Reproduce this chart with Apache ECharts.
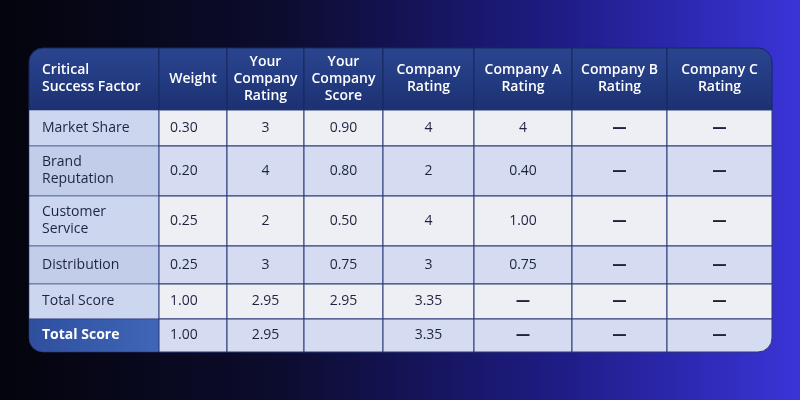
<!DOCTYPE html>
<html><head><meta charset="utf-8">
<script src="https://cdn.jsdelivr.net/npm/echarts@6/dist/echarts.min.js"></script>
<style>html,body{margin:0;padding:0;}#c{width:800px;height:400px;background:linear-gradient(90deg,#04040c 0%,#0c0c2e 35%,#1f1c86 70%,#3a34d8 100%);}</style>
</head><body><div id="c"></div>
<script>
const headers = ['Critical\nSuccess Factor','Weight','Your\nCompany\nRating','Your\nCompany\nScore','Company\nRating','Company A\nRating','Company B\nRating','Company C\nRating'];
const factors = ['Market Share','Brand\nReputation','Customer\nService','Distribution','Total Score','Total Score'];
const weight = ['0.30','0.20','0.25','0.25','1.00','1.00'];
const yourRating = ['3','4','2','3','2.95','2.95'];
const yourScore = ['0.90','0.80','0.50','0.75','2.95',''];
const companyRating = ['4','2','4','3','3.35','3.35'];
const companyA = ['4','0.40','1.00','0.75','—','—'];
const companyB = ['—','—','—','—','—','—'];
const companyC = ['—','—','—','—','—','—'];

// layout (pixel units relative to table)
const colEdges = [0,130,198,275,354,445,543,638,743];
const rowEdges = [0,62,98,148,198,236,271,304];

const columns = [factors,weight,yourRating,yourScore,companyRating,companyA,companyB,companyC];
const cells = [];
headers.forEach((h,c)=>cells.push([c,0,h]));
for(let r=0;r<factors.length;r++) for(let c=0;c<columns.length;c++) cells.push([c,r+1,columns[c][r]]);

const font = '"Open Sans", Lato, sans-serif';
const nCols = headers.length, nRows = factors.length+1;
function renderItem(params, api){
  const c = api.value(0), r = api.value(1), txt = cells[params.dataIndex][2];
  const p0 = api.coord([colEdges[c], rowEdges[r]]);
  const p1 = api.coord([colEdges[c+1], rowEdges[r+1]]);
  const x=p0[0], y=p0[1], w=p1[0]-p0[0], h=p1[1]-p0[1];
  const R=14;
  let radius=[0,0,0,0];
  if(r===0&&c===0) radius[0]=R;
  if(r===0&&c===nCols-1) radius[1]=R;
  if(r===nRows-1&&c===nCols-1) radius[2]=R;
  if(r===nRows-1&&c===0) radius[3]=R;
  let fill, color='#1e2440', weightF=500, align='center', tx=x+w/2;
  if(r===0){
    fill={type:'linear',x:0,y:0,x2:0,y2:1,colorStops:[{offset:0,color:'#2a4590'},{offset:1,color:'#1c3172'}]};
    color='#ffffff'; weightF=600;
    if(c===0){align='left'; tx=x+13;}
  } else if(c===0){
    if(r===nRows-1){fill={type:'linear',x:0,y:0,x2:1,y2:0,colorStops:[{offset:0,color:'#2f4f9e'},{offset:1,color:'#4066b8'}]}; color='#fff'; weightF=700;}
    else fill = (r%2===1)?'#cdd6ef':'#c2cdea';
    align='left'; tx=x+13;
  } else {
    fill = (r%2===1)?'#eeeff5':'#d5dcf1';
    if(c===1){align='left'; tx=x+11;}
  }
  if(txt==='—') weightF=800;
  return {type:'group',children:[
    {type:'rect',shape:{x:x,y:y,width:w,height:h,r:radius},style:{fill:fill,stroke:r===0?'#17285e':'#2a3a78',lineWidth:c===0&&r>0?0.6:1}},
    {type:'text',style:{x:tx,y:y+h/2,text:txt,align:align,verticalAlign:'middle',fill:color,font:weightF+' 14px '+font,lineHeight:17}}
  ]};
}
const chart = echarts.init(document.getElementById('c'));
chart.setOption({
  backgroundColor:'transparent',
  grid:{left:29,right:28,top:48,bottom:48},
  xAxis:{type:'value',min:0,max:743,show:false},
  yAxis:{type:'value',min:0,max:304,inverse:true,show:false},
  series:[{type:'custom',renderItem:renderItem,data:cells.map(d=>[d[0],d[1]]),clip:false,animation:false}]
});
</script></body></html>
